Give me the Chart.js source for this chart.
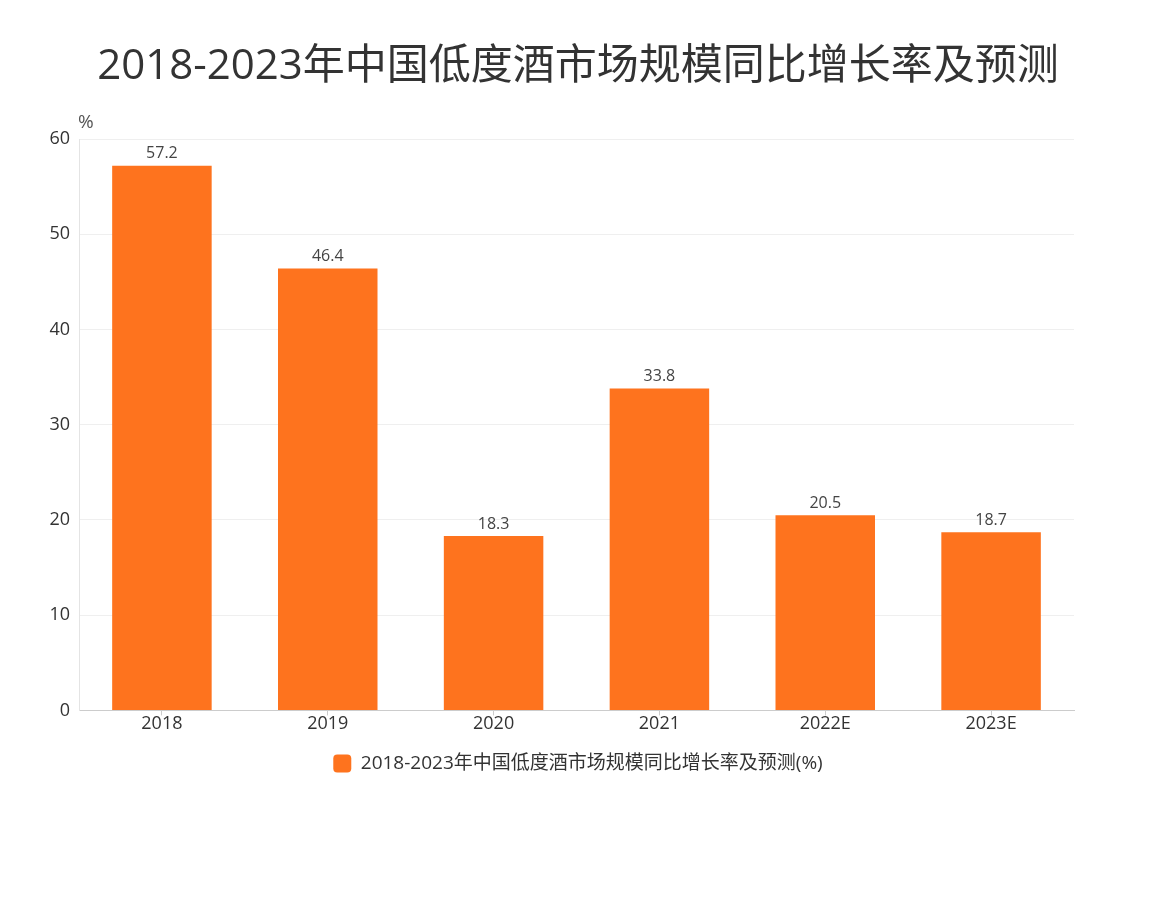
<!DOCTYPE html>
<html>
<head>
<meta charset="utf-8">
<script src="https://cdn.jsdelivr.net/npm/chart.js@4/dist/chart.umd.min.js"></script>
<style>
  body { margin: 0; background: #fff; }
  #wrap { width: 1156px; height: 898px; }
</style>
</head>
<body>
<div id="wrap"><canvas id="myChart" width="1156" height="898"></canvas></div>
<script>
const years = ["2018", "2019", "2020", "2021", "2022E", "2023E"];
const growth = [57.2, 46.4, 18.3, 33.8, 20.5, 18.7];
const yTicks = [0, 10, 20, 30, 40, 50, 60];

const titleText = "2018-2023年中国低度酒市场规模同比增长率及预测";
const seriesName = "2018-2023年中国低度酒市场规模同比增长率及预测(%)";
const fontFamily = "'Open Sans', 'Noto Sans CJK SC', sans-serif";
const barColor = "#fe731e";

// title, value labels above bars and the "%" unit label
const labelPlugin = {
  id: "barLabels",
  afterDatasetsDraw(chart) {
    const ctx = chart.ctx;
    ctx.save();
    ctx.font = "42px " + fontFamily;
    ctx.fillStyle = "#333";
    ctx.textAlign = "center";
    ctx.textBaseline = "middle";
    ctx.fillText(titleText, chart.width / 2, 67);

    ctx.font = "16px " + fontFamily;
    ctx.fillStyle = "#444";
    ctx.textBaseline = "bottom";
    chart.getDatasetMeta(0).data.forEach((bar, i) => {
      ctx.fillText(growth[i], bar.x, bar.y - 4);
    });
    ctx.textAlign = "left";
    ctx.textBaseline = "middle";
    ctx.fillStyle = "#555";
    ctx.font = "19px " + fontFamily;
    ctx.fillText("%", chart.chartArea.left - 1, chart.chartArea.top - 16);
    ctx.restore();
  }
};

new Chart("myChart", {
  type: "bar",
  data: {
    labels: years,
    datasets: [{
      label: seriesName,
      data: growth,
      yAxisID: "y",
      backgroundColor: barColor,
      categoryPercentage: 0.6,
      barPercentage: 1
    }]
  },
  options: {
    responsive: false,
    animation: false,
    layout: { padding: { top: 139, left: 0, right: 0, bottom: 115 } },
    plugins: {
      title: { display: false },
      legend: {
        position: "bottom",
        labels: {
          color: "#333",
          font: { family: fontFamily, size: 19 },
          boxWidth: 18,
          boxHeight: 18,
          useBorderRadius: true,
          borderRadius: 4
        }
      },
      tooltip: { enabled: false }
    },
    scales: {
      x: {
        afterFit(scale) { scale.height += 11; },
        grid: {
          display: true,
          drawOnChartArea: false,
          offset: false,
          tickLength: 5,
          color: "#ccc"
        },
        border: { color: "#ccc" },
        ticks: {
          color: "#333",
          padding: -2,
          font: { family: fontFamily, size: 18 }
        }
      },
      y: {
        min: 0,
        max: 60,
        afterFit(scale) { scale.width = 79; },
        afterBuildTicks(scale) { scale.ticks = yTicks.map(v => ({ value: v })); },
        grid: { color: "#efefef", drawTicks: false },
        border: { color: "#e4e4e4" },
        ticks: {
          color: "#333",
          padding: 9,
          font: { family: fontFamily, size: 18 }
        }
      },
      // empty right-hand spacer so legend stays centred on the page
      yRight: {
        position: "right",
        min: 0,
        max: 60,
        afterFit(scale) { scale.width = 82; },
        grid: { display: false },
        border: { display: false },
        ticks: { display: false }
      }
    }
  },
  plugins: [labelPlugin]
});
</script>
</body>
</html>
